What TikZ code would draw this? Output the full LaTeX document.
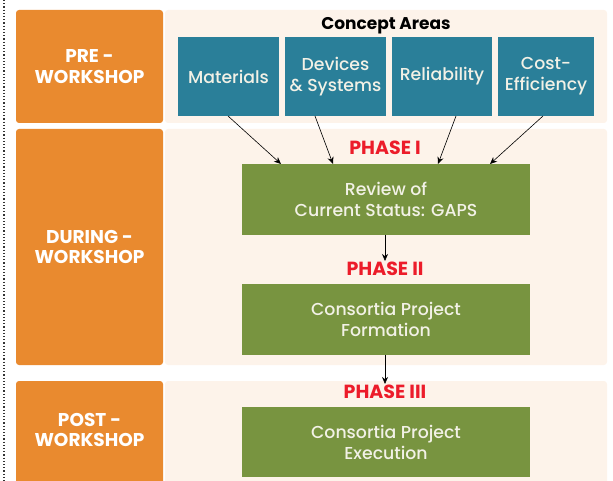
\documentclass[tikz,border=0pt]{standalone}
\usepackage{fontspec}
\setmainfont{Poppins}
\newfontfamily\medfont{Poppins Medium}
\usetikzlibrary{arrows.meta}
\definecolor{phaseorange}{HTML}{E98A2F}
\definecolor{palebg}{HTML}{FDF3EA}
\definecolor{tealbox}{HTML}{2A7F99}
\definecolor{greenbox}{HTML}{789440}
\definecolor{phasered}{HTML}{EC1C2A}
\definecolor{boxtext}{HTML}{F2F1E6}
\begin{document}
\begin{tikzpicture}[x=1pt,y=-1pt,
  stagebox/.style={fill=phaseorange, rounded corners=3pt, inner sep=0pt, text=white,
    font=\fontsize{18.5}{20.5}\selectfont\bfseries, align=center},
  panel/.style={fill=palebg, rounded corners=3pt, inner sep=0pt},
  areabox/.style={fill=tealbox, inner sep=0pt, text=boxtext, align=center,
    font=\medfont\fontsize{17.3}{21}\selectfont},
  workbox/.style={fill=greenbox, inner sep=0pt, text=boxtext, align=center,
    font=\medfont\fontsize{17.3}{21}\selectfont, minimum width=288pt, minimum height=70.5pt},
  phaselabel/.style={text=phasered, font=\fontsize{19}{20}\selectfont\bfseries, inner sep=1pt},
  conn/.style={-{Stealth[length=7pt,width=6pt]}, line width=0.6pt, black}]
\useasboundingbox (0,0) rectangle (613,481);
\clip (0,0) rectangle (613,481);
% dotted left rule
\coordinate (dtop) at (4,0);
\coordinate (dbot) at (4,481);
\draw[dotted, line width=1.2pt, black!80] (dtop) -- (dbot);
% panels
\node[panel, minimum width=442pt, minimum height=113pt] (p1) at (386,66.5) {};
\node[panel, minimum width=442pt, minimum height=236pt] (p2) at (386,247) {};
\node[panel, minimum width=442pt, minimum height=120pt] (p3) at (386,441) {};
% stage labels
\node[stagebox, minimum width=147pt, minimum height=113pt] (pre) at (89.5,66.5) {PRE -\\WORKSHOP};
\node[stagebox, minimum width=147pt, minimum height=236pt] (during) at (89.5,247) {DURING -\\WORKSHOP};
\node[stagebox, minimum width=147pt, minimum height=120pt] (post) at (89.5,441) {};
\node[text=white, font=\fontsize{18.5}{20.5}\selectfont\bfseries, align=center] (postlbl) at (89.5,430) {POST -\\WORKSHOP};
% concept areas
\node[font=\fontsize{17}{20}\selectfont\bfseries] (ca) at (386,26) {Concept Areas};
\node[areabox, minimum width=101pt, minimum height=79pt] (mat) at (228.5,76.5) {Materials};
\node[areabox, minimum width=101pt, minimum height=79pt] (dev) at (335.5,76.5) {Devices\\\& Systems};
\node[areabox, minimum width=100pt, minimum height=79pt] (rel) at (442,76.5) {Reliability};
\node[areabox, minimum width=96pt, minimum height=79pt] (cost) at (546,76.5) {Cost-\\Efficiency};
% phases
\node[phaselabel] (ph1) at (385,148) {PHASE I};
\node[workbox] (rev) at (386,199.5) {Review of\\Current Status: GAPS};
\node[phaselabel] (ph2) at (385,269) {PHASE II};
\node[workbox] (form) at (386,319.5) {Consortia Project\\Formation};
\node[phaselabel] (ph3) at (385,392) {PHASE III};
\node[workbox] (exec) at (386,442) {Consortia Project\\Execution};
% connectors
\draw[conn] (228,116) -- (281,164);
\draw[conn] (315,116) -- (333,164);
\draw[conn] (456,116) -- (438,164);
\draw[conn] (543,116) -- (490,164);
\draw[conn] (rev.south -| ph2) -- (ph2.north);
\draw[conn] (form.south -| ph3) -- (ph3.north);
\end{tikzpicture}
\end{document}
